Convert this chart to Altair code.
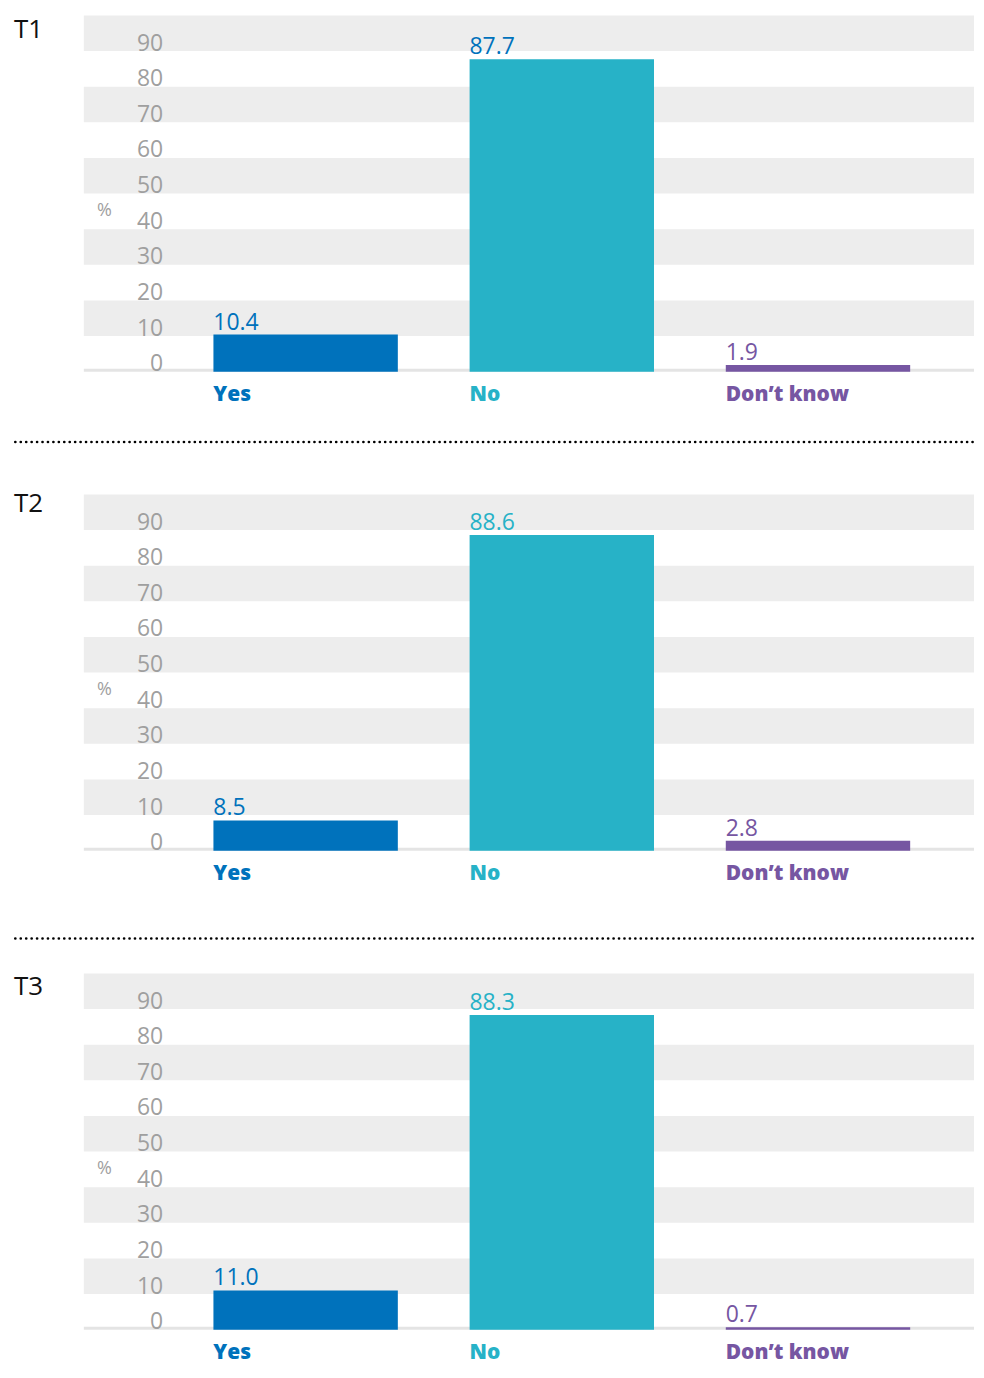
import altair as alt
import pandas as pd

# ---- data ----
CATEGORIES = ["Yes", "No", "Don’t know"]
PANEL_NAMES = ["T1", "T2", "T3"]
T1_VALUES = [10.4, 87.7, 1.9]
T2_VALUES = [8.5, 88.6, 2.8]
T3_VALUES = [11.0, 88.3, 0.7]
Y_TICKS = [0, 10, 20, 30, 40, 50, 60, 70, 80, 90]
BAND_STARTS = [10, 30, 50, 70, 90]

# ---- styles ----
BLUE, TEAL, PURPLE = "#0072bc", "#27b2c7", "#7656a2"
BAR_COLORS = [BLUE, TEAL, PURPLE]
T1_LABEL_COLORS = [BLUE, BLUE, PURPLE]
T2_LABEL_COLORS = [BLUE, TEAL, PURPLE]
T3_LABEL_COLORS = [BLUE, TEAL, PURPLE]
GREY_TXT = "#9f9f9f"
BAND_GREY = "#ededed"
FONT = "Open Sans"
W, H = 892, 357

yscale = alt.Scale(domain=[0, 100], nice=False, zero=True)
yaxis = alt.Axis(values=Y_TICKS, domain=False, ticks=False, grid=False, zindex=1,
                 labelPadding=-79, labelAlign="right", labelBaseline="alphabetic",
                 labelOffset=-1, labelFont=FONT, labelFontSize=23, labelColor=GREY_TXT,
                 labelOverlap=False, labelFlush=False,
                 title="%", titleAngle=0, titleX=20, titleY=196, titleAlign="center",
                 titleBaseline="middle", titleFont=FONT, titleFontSize=18,
                 titleFontWeight="normal", titleColor=GREY_TXT)
xscale = alt.Scale(domain=CATEGORIES, paddingInner=0.2802, paddingOuter=0.3775, align=0.67)
xaxis = alt.Axis(title=None, domain=False, ticks=False, grid=False, labelAngle=0, zindex=1,
                 labelAlign="left", labelOffset=-92.5, labelPadding=12, labelBaseline="top",
                 labelFont=FONT, labelFontWeight=800, labelFontSize=21,
                 labelColor={"condition": [{"test": "datum.value === 'Yes'", "value": BLUE},
                                           {"test": "datum.value === 'No'", "value": TEAL}],
                             "value": PURPLE})


def panel(name, values, label_colors, title_y, sep_y):
    df = pd.DataFrame({"cat": CATEGORIES, "val": values, "bar_color": BAR_COLORS,
                       "lab_color": label_colors, "lab": [f"{v:.1f}" for v in values]})
    bands = alt.Chart(pd.DataFrame({"lo": BAND_STARTS, "hi": [b + 10 for b in BAND_STARTS]})).mark_rect(
        color=BAND_GREY).encode(
        x=alt.value(0), x2=alt.value(W),
        y=alt.Y("lo:Q", scale=yscale, axis=yaxis), y2="hi:Q")
    base = alt.Chart(pd.DataFrame({"v": [0]})).mark_rule(
        color="#e4e4e4", strokeWidth=3, yOffset=-1.5).encode(
        y=alt.Y("v:Q", scale=yscale, axis=yaxis), x=alt.value(0), x2=alt.value(W))
    bars = alt.Chart(df).mark_bar().encode(
        x=alt.X("cat:N", scale=xscale, axis=xaxis, sort=CATEGORIES),
        y=alt.Y("val:Q", scale=yscale, axis=yaxis),
        color=alt.Color("bar_color:N", scale=None))
    texts = alt.Chart(df).mark_text(
        align="left", baseline="alphabetic", dx=-92.5, dy=-5, font=FONT, fontSize=23).encode(
        x=alt.X("cat:N", scale=xscale, axis=xaxis, sort=CATEGORIES),
        y=alt.Y("val:Q", scale=yscale, axis=yaxis),
        text="lab:N", color=alt.Color("lab_color:N", scale=None))
    title = alt.Chart(pd.DataFrame({"t": [name]})).mark_text(
        align="left", baseline="top", font=FONT, fontSize=26, color="#111111").encode(
        x=alt.value(-70), y=alt.value(title_y), text="t:N")
    layers = [bands, base, bars, texts, title]
    if sep_y is not None:
        sep = alt.Chart(pd.DataFrame({"s": [0]})).mark_rule(
            color="black", strokeWidth=2.6, strokeDash=[0.1, 5.35], strokeCap="round").encode(
            x=alt.value(-68.7), x2=alt.value(W), y=alt.value(sep_y))
        layers.append(sep)
    return alt.layer(*layers).properties(width=W, height=H)


panels = [
    panel("T1", T1_VALUES, T1_LABEL_COLORS, 1.5, 427.5),
    panel("T2", T2_VALUES, T2_LABEL_COLORS, -3, 445),
    panel("T3", T3_VALUES, T3_LABEL_COLORS, 1, None),
]

chart = alt.vconcat(*panels, spacing=123, bounds="flush").properties(
    padding={"left": 6, "top": 6, "right": 0, "bottom": 0}
).configure_view(stroke=None)

chart.save("out.html", embed_options={"renderer": "svg", "actions": False})
